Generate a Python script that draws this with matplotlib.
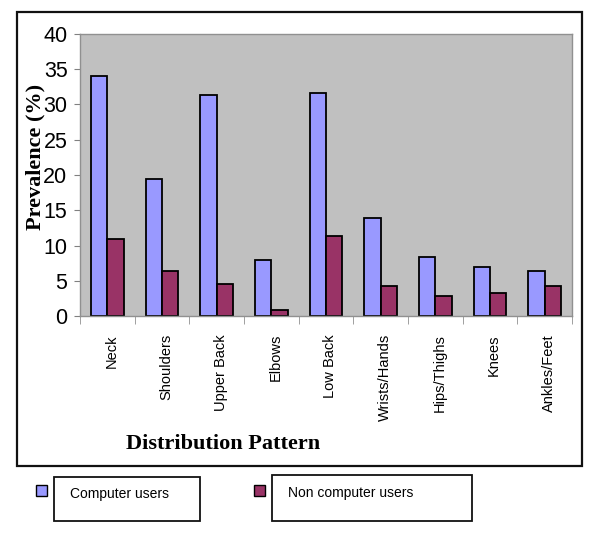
import matplotlib
matplotlib.use('Agg')

from matplotlib import pyplot as plt
from matplotlib.patches import Rectangle
from matplotlib.transforms import ScaledTranslation
import numpy as np

# Data
categories = ['Neck', 'Shoulders', 'Upper Back', 'Elbows', 'Low Back',
              'Wrists/Hands', 'Hips/Thighs', 'Knees', 'Ankles/Feet']
computer_users = [34.0, 19.5, 31.3, 8.0, 31.7, 13.9, 8.4, 6.9, 6.4]
non_computer_users = [10.9, 6.4, 4.6, 0.9, 11.3, 4.2, 2.9, 3.3, 4.2]
series_names = ['Computer users', 'Non computer users']

blue = '#9999FF'
red = '#993366'
W, H = 600, 535

fig = plt.figure(figsize=(6.0, 5.35), dpi=100)

# Outer frame round chart
fig.patches.append(Rectangle((17 / W, 1 - 466 / H), 565 / W, 454 / H,
                             transform=fig.transFigure, fill=False,
                             edgecolor='#111111', linewidth=1.6))

ax = fig.add_axes([80 / W, 1 - 316 / H, 492 / W, 282 / H])
ax.set_facecolor('#C0C0C0')

x = np.arange(len(categories))
bw = 0.3
ax.bar(x - bw / 2, computer_users, bw, color=blue, edgecolor='black', linewidth=1.3)
ax.bar(x + bw / 2, non_computer_users, bw, color=red, edgecolor='black', linewidth=1.3)

ax.set_xlim(-0.5, len(categories) - 0.5)
ax.set_ylim(0, 40)
ax.set_yticks(np.arange(0, 41, 5))
ax.tick_params(axis='y', labelsize=15.5, length=4, color='#808080', pad=5)
for lab in ax.get_yticklabels():
    lab.set_family('Liberation Sans')

ax.set_xticks(x)
ax.set_xticklabels(categories, rotation=90, fontsize=10.5, family='Liberation Sans', va='top')
ax.tick_params(axis='x', which='major', length=0, pad=13)
shift = ScaledTranslation(4 / 100, 0, fig.dpi_scale_trans)
for lab in ax.get_xticklabels():
    lab.set_transform(lab.get_transform() + shift)
ax.set_xticks(np.arange(-0.5, len(categories), 1), minor=True)
ax.tick_params(axis='x', which='minor', length=6, color='#909090')

for s in ax.spines.values():
    s.set_color('#909090')
    s.set_linewidth(1)

fig.text(35 / W, 1 - 157 / H, 'Prevalence (%)', rotation=90, ha='center', va='center',
         fontsize=16, fontweight='bold', family='Liberation Serif')
fig.text(223 / W, 1 - 444 / H, 'Distribution Pattern', ha='center', va='center',
         fontsize=16, fontweight='bold', family='Liberation Serif')

# Legend drawn as separate boxes like the original
legend_items = [
    (36, 485, 54, 477, 146, 44, 70, 494),
    (254, 485, 272, 475, 200, 46, 288, 493),
]
for name, color, (sx, sy, bx, by, bwid, bhgt, tx, ty) in zip(series_names, [blue, red], legend_items):
    fig.patches.append(Rectangle((sx / W, 1 - (sy + 11) / H), 11 / W, 11 / H,
                                 transform=fig.transFigure, facecolor=color,
                                 edgecolor='black', linewidth=1))
    fig.patches.append(Rectangle((bx / W, 1 - (by + bhgt) / H), bwid / W, bhgt / H,
                                 transform=fig.transFigure, fill=False,
                                 edgecolor='#111111', linewidth=1.3))
    fig.text(tx / W, 1 - ty / H, name, ha='left', va='center',
             fontsize=10, family='Liberation Sans')

plt.savefig('out.png', dpi=100)
